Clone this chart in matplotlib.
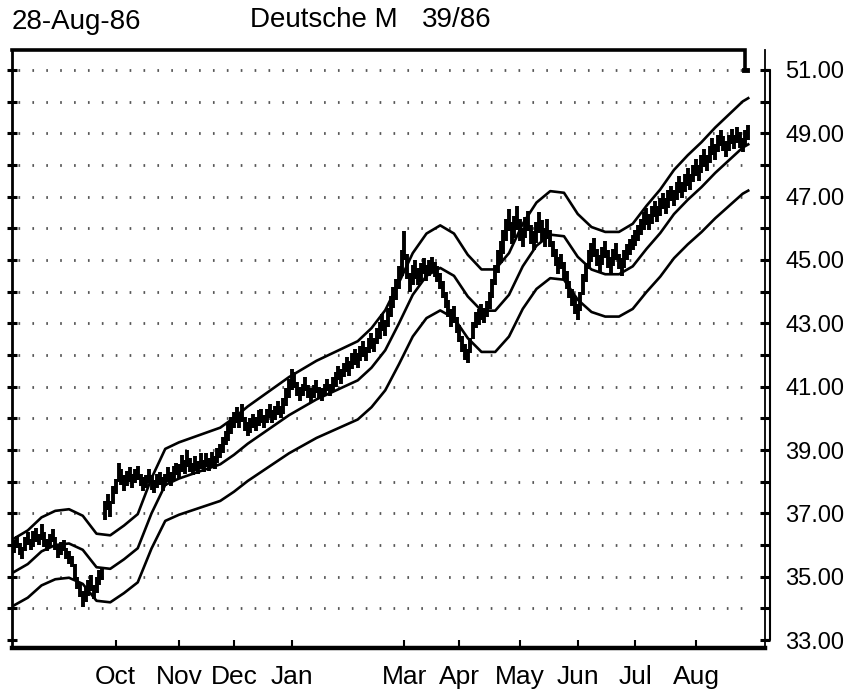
import numpy as np
import pandas as pd
import matplotlib
matplotlib.use("Agg")
import matplotlib.pyplot as plt
from matplotlib.ticker import FuncFormatter

plt.rcParams['font.family'] = ['Liberation Sans', 'DejaVu Sans']

# Trading calendar for the contract (exchange holidays removed)
start_date = '1985-08-08'
end_date = '1986-08-28'
holidays = ['1985-09-02', '1985-11-28', '1985-12-25', '1986-01-01',
            '1986-02-17', '1986-03-28', '1986-05-26', '1986-07-04']

# Daily low / high, one row per calendar month
low = [
    # Aug 85
    35.75, 35.90, 35.70, 35.55, 35.80, 36.00, 35.85, 35.95, 36.10, 36.00,
    36.15, 35.95, 35.80, 35.95, 36.10, 35.85, 35.60,
    # Sep 85
    35.70, 35.80, 35.55, 35.40, 35.30, 34.90, 34.60, 34.35, 34.05, 34.20,
    34.40, 34.55, 34.30, 34.50, 34.75, 34.90, 36.80, 37.10, 36.90, 37.30,
    # Oct 85
    37.60, 38.00, 37.90, 37.70, 37.85, 38.00, 37.80, 37.95, 38.05, 37.85,
    37.70, 37.80, 37.95, 37.75, 37.65, 37.80, 37.90, 37.70, 37.85, 38.00,
    37.85, 38.05, 38.20,
    # Nov 85
    38.10, 38.30, 38.25, 38.45, 38.30, 38.20, 38.35, 38.25, 38.40, 38.30,
    38.45, 38.35, 38.50, 38.40, 38.60, 38.75, 38.90, 39.15, 39.30, 39.50,
    # Dec 85
    39.70, 39.85, 39.70, 39.90, 39.60, 39.45, 39.55, 39.70, 39.60, 39.75,
    39.85, 39.70, 39.85, 40.00, 39.85, 39.95, 40.10, 40.00, 40.15, 40.40,
    40.65,
    # Jan 86
    40.90, 40.95, 40.70, 40.55, 40.70, 40.85, 40.65, 40.50, 40.65, 40.80,
    40.60, 40.55, 40.70, 40.85, 40.70, 40.85, 41.00, 41.20, 41.10, 41.30,
    41.45, 41.35,
    # Feb 86
    41.55, 41.70, 41.60, 41.80, 41.95, 41.80, 42.05, 42.20, 42.10, 42.35,
    42.50, 42.75, 42.60, 42.90, 43.20, 43.50, 43.75, 44.10, 44.50,
    # Mar 86
    45.00, 44.40, 44.00, 44.20, 44.40, 44.20, 44.30, 44.55, 44.35, 44.50,
    44.60, 44.45, 44.30, 44.10, 43.80, 43.50, 43.20, 42.90, 43.00, 42.70,
    # Apr 86
    42.40, 42.10, 41.85, 41.75, 42.05, 42.50, 42.85, 42.95, 43.10, 43.00,
    43.20, 43.45, 43.80, 44.20, 44.60, 44.90, 45.20, 45.60, 45.90, 45.50,
    45.70, 45.95,
    # May 86
    45.60, 45.40, 45.70, 45.90, 45.50, 45.30, 45.55, 45.85, 45.60, 45.40,
    45.65, 45.40, 45.10, 44.80, 44.55, 44.70, 44.40, 44.10, 43.80, 43.55,
    43.30,
    # Jun 86
    43.10, 43.40, 43.90, 44.30, 44.70, 44.95, 45.10, 44.80, 44.60, 44.85,
    45.05, 44.75, 44.55, 44.80, 45.00, 44.70, 44.50, 44.75, 45.00, 45.15,
    45.30,
    # Jul 86
    45.45, 45.60, 45.80, 45.95, 46.10, 45.95, 46.15, 46.35, 46.20, 46.40,
    46.60, 46.45, 46.65, 46.85, 46.70, 46.90, 47.10, 46.95, 47.15, 47.35,
    47.20, 47.45,
    # Aug 86
    47.65, 47.50, 47.75, 47.95, 47.80, 48.05, 48.30, 48.15, 48.40, 48.60,
    48.45, 48.25, 48.45, 48.65, 48.50, 48.70, 48.55, 48.40, 48.60, 48.80,
]
high = [
    # Aug 85
    36.15, 36.30, 36.05, 35.95, 36.25, 36.40, 36.20, 36.45, 36.55, 36.35,
    36.65, 36.40, 36.20, 36.35, 36.50, 36.25, 36.00,
    # Sep 85
    36.10, 36.15, 35.90, 35.80, 35.65, 35.40, 35.00, 34.80, 34.55, 34.70,
    34.90, 35.05, 34.75, 35.00, 35.20, 35.30, 37.40, 37.60, 37.40, 37.85,
    # Oct 85
    38.10, 38.60, 38.40, 38.20, 38.35, 38.45, 38.25, 38.40, 38.50, 38.25,
    38.15, 38.20, 38.40, 38.20, 38.05, 38.25, 38.30, 38.15, 38.25, 38.45,
    38.30, 38.50, 38.60,
    # Nov 85
    38.55, 38.85, 38.70, 39.00, 38.75, 38.60, 38.80, 38.65, 38.90, 38.70,
    38.90, 38.75, 38.95, 38.80, 39.05, 39.20, 39.40, 39.60, 39.85, 40.05,
    # Dec 85
    40.20, 40.35, 40.15, 40.45, 40.05, 39.90, 40.00, 40.15, 40.05, 40.25,
    40.30, 40.10, 40.30, 40.45, 40.25, 40.40, 40.55, 40.40, 40.65, 40.95,
    41.25,
    # Jan 86
    41.55, 41.45, 41.15, 41.00, 41.10, 41.30, 41.05, 40.95, 41.05, 41.20,
    41.00, 40.95, 41.10, 41.25, 41.10, 41.30, 41.45, 41.65, 41.55, 41.75,
    41.95, 41.80,
    # Feb 86
    42.05, 42.20, 42.05, 42.30, 42.45, 42.25, 42.55, 42.70, 42.55, 42.85,
    43.05, 43.30, 43.10, 43.50, 43.85, 44.15, 44.40, 44.80, 45.30,
    # Mar 86
    45.90, 45.20, 44.60, 44.85, 45.00, 44.75, 44.90, 45.05, 44.85, 45.00,
    45.10, 44.95, 44.80, 44.60, 44.35, 44.00, 43.75, 43.45, 43.55, 43.20,
    # Apr 86
    42.95, 42.60, 42.35, 42.20, 42.55, 43.05, 43.35, 43.45, 43.60, 43.50,
    43.70, 44.00, 44.40, 44.85, 45.30, 45.60, 45.95, 46.30, 46.60, 46.20,
    46.40, 46.70,
    # May 86
    46.30, 46.00, 46.35, 46.55, 46.10, 45.90, 46.20, 46.50, 46.25, 46.00,
    46.30, 45.95, 45.60, 45.35, 45.10, 45.20, 44.95, 44.65, 44.35, 44.10,
    43.85,
    # Jun 86
    43.60, 44.00, 44.55, 44.90, 45.30, 45.55, 45.70, 45.35, 45.15, 45.40,
    45.60, 45.30, 45.10, 45.35, 45.55, 45.20, 45.05, 45.30, 45.50, 45.65,
    45.80,
    # Jul 86
    45.95, 46.10, 46.30, 46.50, 46.65, 46.45, 46.70, 46.85, 46.70, 46.95,
    47.10, 46.95, 47.20, 47.35, 47.20, 47.45, 47.65, 47.45, 47.70, 47.90,
    47.70, 48.00,
    # Aug 86
    48.20, 48.00, 48.30, 48.50, 48.30, 48.60, 48.85, 48.65, 48.95, 49.10,
    48.90, 48.75, 48.95, 49.15, 48.95, 49.20, 49.05, 48.85, 49.10, 49.25,
]

# Moving-average line, sampled weekly (trading-day index -> value)
ma_day = list(range(0, 266, 5)) + [267]
ma_value = [
    35.15, 35.40, 35.80, 36.00, 36.05, 35.85, 35.30, 35.25, 35.55, 35.90,
    37.00, 37.90, 38.10, 38.25, 38.40, 38.55, 38.85, 39.20, 39.50, 39.80,
    40.10, 40.35, 40.60, 40.80, 41.00, 41.20, 41.60, 42.15, 43.00, 43.90,
    44.50, 44.75, 44.50, 43.85, 43.40, 43.40, 43.90, 44.80, 45.45, 45.80,
    45.75, 45.10, 44.70, 44.55, 44.55, 44.80, 45.35, 45.85, 46.45, 46.90,
    47.30, 47.75, 48.15, 48.55, 48.65,
]
band_pct = 3.0

month_ticks = ['1985-10', '1985-11', '1985-12', '1986-01', '1986-03',
               '1986-04', '1986-05', '1986-06', '1986-07', '1986-08']


def main():
    dates = pd.bdate_range(start_date, end_date).drop(pd.to_datetime(holidays))
    day = np.arange(len(dates))
    assert len(low) == len(high) == len(dates)
    assert len(ma_day) == len(ma_value)

    mid = np.array(ma_value)
    upper = mid * (1 + band_pct / 100)
    lower = mid * (1 - band_pct / 100)

    fig = plt.figure(figsize=(8.63, 6.95), dpi=100)
    ax = fig.add_axes([12 / 863, 1 - 648 / 695, 753 / 863, 598 / 695])
    x0, x1 = -0.73, 273.1
    ax.set_xlim(x0, x1)
    ax.set_ylim(32.75, 51.63)

    # dotted guide rows at every whole point
    for v in range(34, 52):
        ax.hlines(v, 1.5, 266, color='#555555', lw=2.0,
                  linestyle=(0, (0.6, 4.4)), zorder=1)

    # daily high-low bars
    ax.vlines(day, low, high, color='black', lw=2.8, zorder=3)

    # envelope
    for series in (upper, mid, lower):
        ax.plot(ma_day, series, color='black', lw=1.9, zorder=4)

    # frame
    ax.spines['top'].set_visible(False)
    ax.spines['left'].set_linewidth(2.0)
    ax.spines['bottom'].set_linewidth(3.2)
    ax.spines['right'].set_linewidth(1.3)
    ax.plot([x0, 266.0, 266.0], [51.63, 51.63, 51.0], color='black', lw=2.6,
            clip_on=False, solid_joinstyle='miter', zorder=5)
    ax.plot([265.4, 266.6], [51.0, 51.0], color='black', lw=3.5,
            clip_on=False, zorder=5)
    ax.plot([x1, 275.0, 275.0, x1], [51.0, 51.0, 33.0, 33.0], color='black',
            lw=1.5, clip_on=False, zorder=5)

    # y axis: ticks on both sides, labels on the right for odd values
    ax.set_yticks(range(33, 52))
    ax.yaxis.set_major_formatter(
        FuncFormatter(lambda v, pos: f'{v:.2f}' if int(round(v)) % 2 == 1 else ''))
    ax.tick_params(axis='y', left=True, right=True, labelleft=False,
                   labelright=True, direction='inout', length=7, width=2.2,
                   labelsize=17, pad=11)

    # x axis: first trading day of each labelled month
    tick_pos, tick_lab = [], []
    for m in month_ticks:
        first = np.where(dates.strftime('%Y-%m') == m)[0][0]
        tick_pos.append(day[first])
        tick_lab.append(dates[first].strftime('%b'))
    ax.set_xticks(tick_pos, labels=tick_lab)
    ax.tick_params(axis='x', direction='in', length=6, width=1.5,
                   labelsize=19, pad=12)

    fig.text(12 / 863, 1 - 22 / 695, '28-Aug-86', fontsize=20, va='center')
    fig.text(250 / 863, 1 - 20 / 695, 'Deutsche M', fontsize=20, va='center')
    fig.text(422 / 863, 1 - 20 / 695, '39/86', fontsize=20, va='center')

    fig.savefig('out.png', dpi=100, facecolor='white')
    plt.close(fig)


if __name__ == "__main__":
    main()
